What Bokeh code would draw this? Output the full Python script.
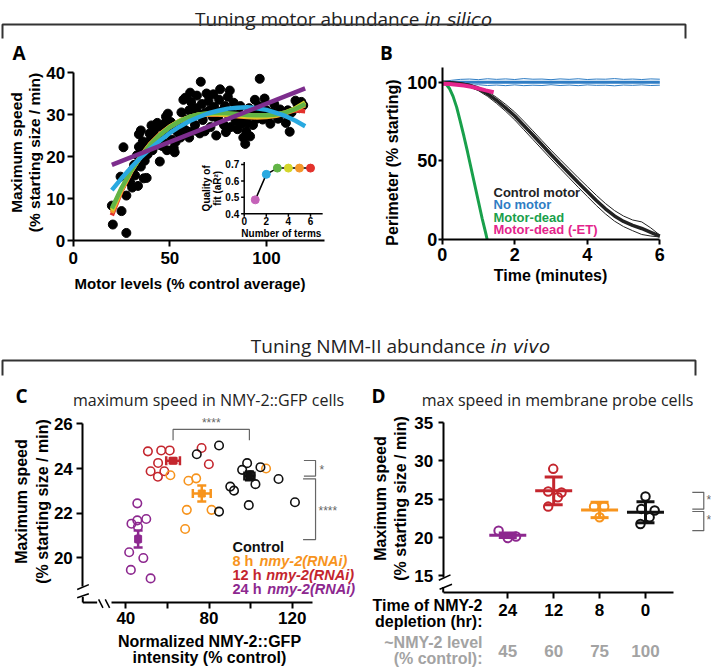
import math
from bokeh.plotting import figure
from bokeh.layouts import column, row
from bokeh.models import Range1d, FixedTicker, Label, ColumnDataSource, Whisker, TeeHead
from bokeh.core.properties import value
from bokeh.embed import file_html
from bokeh.resources import INLINE

SANS = "Liberation Sans"
OPEN = "Open Sans"
ITAL = "DejaVu Sans"

# ---------------- Panel A data ----------------
motor_levels = [20.0,20.5,27.5,25.0,26.0,24.5,27.5,29.5,30.5,31.0,
                32.0,31.5,33.0,34.0,35.0,34.0,35.5,36.0,37.0,36.5,
                38.0,35.0,33.5,38.5,39.0,40.0,40.5,41.0,42.0,43.0,
                44.8,44.0,45.0,46.0,47.0,48.0,49.0,47.5,50.0,51.0,
                52.0,52.5,53.0,54.0,55.0,55.5,56.0,57.0,58.0,58.5,
                59.0,60.0,60.5,61.0,62.0,63.0,63.5,64.0,65.0,65.5,
                66.0,66.5,67.0,68.0,68.5,69.0,70.0,70.5,71.0,72.0,
                72.5,73.0,74.0,75.0,75.5,76.0,77.0,78.0,78.5,79.0,
                80.0,80.5,81.0,81.5,82.0,83.0,84.0,85.0,86.0,86.5,
                87.0,88.0,88.5,89.0,89.5,90.0,91.0,91.5,92.0,93.0,
                93.5,94.0,95.0,96.0,96.5,97.0,98.0,99.0,100.0,101.0,
                102.0,103.0,104.0,105.0,106.0,107.0,108.0,110.0,111.0,112.0,
                113.0,115.0,116.0,117.0,118.0,119.0,
                38.0,39.5,41.5,43.5,44.5,46.5,48.5,50.5,53.5,57.5,60.0,62.5]
max_speed = [8.3,3.8,1.8,7.0,22.2,15.2,10.7,13.8,12.6,17.0,
             15.5,18.0,20.3,25.3,26.2,22.3,21.5,23.6,19.0,14.8,
             14.9,17.6,13.0,20.5,22.5,24.0,27.4,21.5,26.5,23.0,
             18.8,24.5,27.2,22.5,25.5,29.5,30.2,28.0,26.5,24.0,
             22.0,21.0,23.5,25.8,27.5,24.5,30.5,33.5,34.0,28.8,
             26.0,31.0,35.2,33.0,29.8,27.5,31.5,34.5,30.2,25.5,
             37.8,32.5,28.7,26.0,30.5,35.0,33.2,31.0,27.0,29.5,
             34.8,31.8,25.0,29.0,33.5,36.0,30.8,27.5,32.0,25.8,
             34.2,29.8,35.7,27.0,30.5,32.8,28.5,26.5,30.2,32.0,
             27.8,24.5,29.0,23.0,26.0,28.0,31.5,24.8,29.8,27.5,
             30.5,33.5,29.0,32.0,38.5,30.5,28.8,33.8,31.0,29.5,
             27.8,30.5,32.5,30.0,29.0,31.2,30.2,28.0,31.0,25.9,
             30.5,33.3,32.5,31.5,33.0,32.2,
             23.0,25.5,26.0,28.0,22.8,23.5,21.5,28.2,27.0,26.5,24.5,26.2]

fit1_x = [20, 120]
fit1_y = [18.0, 36.2]
fit_x = [20,25,30,35,40,45,50,55,60,65,70,75,80,85,90,95,100,105,110,115,120]
fit2_y = [12.0,14.8,17.4,19.8,21.9,23.8,25.6,27.1,28.4,29.4,30.3,30.9,31.4,31.6,31.7,31.5,31.1,30.4,29.6,28.5,27.2]
fit3_y = [7.6,12.5,16.6,20.0,22.9,25.2,27.0,28.4,29.4,30.0,30.3,30.4,30.3,30.1,29.9,29.8,29.8,30.0,30.5,31.3,32.5]
fit4_y = [7.2,12.3,16.6,20.1,23.0,25.3,27.1,28.5,29.4,30.0,30.2,30.2,30.0,29.8,29.6,29.5,29.6,29.9,30.5,31.5,32.9]
fit5_y = [6.6,12.0,16.5,20.1,23.0,25.3,27.1,28.4,29.3,29.8,30.0,30.0,29.8,29.6,29.4,29.3,29.4,29.7,30.3,31.2,32.2]
fit6_y = [6.0,11.8,16.4,20.1,23.1,25.4,27.1,28.4,29.3,29.8,30.0,30.0,29.9,29.7,29.6,29.6,29.7,30.0,30.5,31.0,30.8]

n_terms = [1, 2, 3, 4, 5, 6]
fit_quality = [0.485, 0.64, 0.678, 0.678, 0.678, 0.678]
term_colors = ["#c462b8", "#29a9e0", "#62b446", "#d4d62a", "#f4982b", "#e3322c"]
inset_xticks = [0, 2, 4, 6]
inset_yticks = [0.4, 0.5, 0.6, 0.7]

# ---------------- Panel B data ----------------
t_grid = [0,0.25,0.5,0.75,1.0,1.25,1.5,1.75,2.0,2.25,2.5,2.75,3.0,3.25,3.5,3.75,4.0,4.25,4.5,4.75,5.0,5.25,5.5,5.75,6.0]
ctrl_mean = [100,99.7,99.0,97.9,95.8,92.6,88.4,83.7,78.5,72.5,66.4,60.2,54.0,48.0,42.1,36.2,30.5,24.8,19.5,15.0,11.5,9.0,7.0,4.6,2.2]
ctrl_hi = [100,100.1,99.6,98.8,97.0,94.2,90.3,85.9,81.0,75.2,69.1,62.9,56.8,50.9,45.1,39.3,33.7,28.1,22.9,18.4,14.9,12.4,11.2,7.4,2.8]
ctrl_lo = [100,99.3,98.4,97.0,94.6,91.0,86.5,81.5,76.0,69.8,63.6,57.4,51.2,45.2,39.2,33.2,27.4,21.6,16.3,11.7,8.2,5.6,3.2,2.2,1.6]
nomotor_t = [0, 6]
nomotor_mean = [100, 100]
nomotor_hi = [100.3,101.2,101.8,102.0,101.6,102.2,101.8,102.1,101.7,102.3,101.9,102.0,101.6,102.1,101.8,102.2,101.7,102.0,101.9,102.3,101.8,102.0,101.7,102.1,101.9]
nomotor_lo = [99.7,98.9,98.3,98.0,98.4,97.9,98.2,97.8,98.3,97.8,98.1,97.9,98.4,97.9,98.2,97.8,98.3,98.0,98.1,97.7,98.2,98.0,98.3,97.9,98.1]
dead_t = [0,0.1,0.2,0.3,0.4,0.5,0.6,0.7,0.8,0.9,1.0,1.1,1.2,1.24]
dead_y = [100,99.0,96.0,91.0,84.0,75.0,65.5,55.5,45.0,34.5,24.0,13.5,4.0,0]
deadET_t = [0,0.2,0.4,0.6,0.8,1.0,1.2,1.42]
deadET_y = [99.0,98.8,98.4,97.9,97.1,96.0,94.8,93.6]
b_legend = ["Control motor", "No motor", "Motor-dead", "Motor-dead (-ET)"]

# ---------------- Panel C data ----------------
c_ctrl_x = [74.1,84.8,98.3,95.9,99.9,104.7,102.3,90.2,92.0,99.1,84.8,113.4,121.3]
c_ctrl_y = [24.64,25.03,24.24,23.94,23.70,24.06,23.30,23.19,23.01,22.36,22.07,23.53,22.49]
c_8h_x = [61.4,70.1,73.8,69.3,81.2,68.5,107.4]
c_8h_y = [23.70,23.45,23.56,22.15,22.15,21.29,24.00]
c_12h_x = [50.6,57.0,61.1,55.5,51.9,55.4,58.5,76.4,79.9]
c_12h_y = [24.77,24.81,24.81,24.25,23.88,23.63,23.88,24.92,24.19]
c_24h_x = [45.5,42.7,45.5,49.8,45.8,41.6,48.4,42.4,51.9]
c_24h_y = [22.44,21.53,21.68,21.74,21.39,20.25,19.99,19.46,19.08]
c_mean_x = [99.4, 76.5, 62.7, 45.9]
c_mean_y = [23.67, 22.88, 24.35, 20.84]
c_sem_x = [2.4, 4.3, 3.3, 0.6]
c_sem_y = [0.2, 0.36, 0.1, 0.38]
c_groups = ["Control", "8 h", "12 h", "24 h"]
c_xticks = [40, 60, 80, 100, 120]
c_yticks = [20, 22, 24, 26]

# ---------------- Panel D data ----------------
d_depletion = ["24", "12", "8", "0"]
d_level = ["45", "60", "75", "100"]
d_pos = [1, 2, 3, 4]
d_vals = [[20.88, 19.93, 20.14],
          [28.96, 26.0, 25.87, 25.26, 24.04],
          [24.06, 24.06, 22.66],
          [25.35, 23.74, 23.52, 22.65, 21.78]]
d_jitter = [[-0.2, 0.0, 0.18],
            [-0.01, -0.12, 0.17, 0.09, -0.12],
            [-0.12, 0.1, 0.0],
            [0.0, -0.09, 0.2, 0.09, -0.11]]
d_mean = [20.3, 26.09, 23.6, 23.3]
d_sd = [0.3, 1.8, 1.0, 1.37]
d_yticks = [15, 20, 25, 30, 35]

PURP = "#8d288f"; RED = "#c4262e"; ORANGE = "#f7941d"; BLACK = "#111111"
c_colors = [BLACK, ORANGE, RED, PURP]
d_colors = [PURP, RED, ORANGE, BLACK]
GREY = "#a3a3a3"; SIG = "#666666"


# ---------------- helpers ----------------
class Panel:
    """A figure whose frame fills the whole canvas; axes sit at fixed data locations."""
    def __init__(self, W, H, left, top, fw, fh, xr, yr):
        x0, x1 = xr
        y0, y1 = yr
        self.pxu = fw / (x1 - x0)
        self.pyu = fh / (y1 - y0)
        self.X0 = x0 - left / self.pxu
        X1 = x0 + (W - left) / self.pxu
        self.Y1 = y1 + top / self.pyu
        Y0 = y1 - (H - top) / self.pyu
        p = figure(width=W, height=H, x_range=Range1d(self.X0, X1),
                   y_range=Range1d(Y0, self.Y1), output_backend="svg",
                   toolbar_location=None, min_border=0)
        p.grid.visible = False
        p.outline_line_color = None
        p.background_fill_color = "white"
        p.border_fill_color = "white"
        p.xaxis.fixed_location = y0
        p.yaxis.fixed_location = x0
        self.xr, self.yr = xr, yr
        self.p = p

    def data(self, fx, fy):
        return self.X0 + fx / self.pxu, self.Y1 - fy / self.pyu

    def label(self, fx, fy, text, size, color="black", style="bold", font=SANS,
              align="center", angle=0.0, baseline="middle"):
        x, y = self.data(fx, fy)
        self.p.add_layout(Label(x=x, y=y, text=text, text_font=font,
                                text_font_size=f"{size}px", text_font_style=style,
                                text_color=color, text_align=align,
                                text_baseline=baseline, angle=angle))

    def dlabel(self, x, y, text, size, color="black", style="bold", align="center"):
        self.p.add_layout(Label(x=x, y=y, text=text, text_font=SANS,
                                text_font_size=f"{size}px", text_font_style=style,
                                text_color=color, text_align=align, text_baseline="middle"))

    def segs(self, pts, color="black", width=1.5):
        self.p.segment(x0=[a[0] for a in pts], y0=[a[1] for a in pts],
                       x1=[a[2] for a in pts], y1=[a[3] for a in pts],
                       line_color=color, line_width=width)


def style_axis(ax, ticks, size, standoff=3, tick_out=6, lw=2.0, bounds=None, overrides=None):
    ax.ticker = FixedTicker(ticks=ticks)
    ax.major_label_text_font = SANS
    ax.major_label_text_font_size = f"{size}px"
    ax.major_label_text_font_style = "bold"
    ax.major_label_text_color = "black"
    ax.axis_line_width = lw
    ax.axis_line_color = "black"
    ax.major_tick_line_width = lw
    ax.major_tick_line_color = "black"
    ax.major_tick_out = tick_out
    ax.major_tick_in = 0
    ax.minor_tick_line_color = None
    ax.major_label_standoff = standoff
    if bounds is not None:
        ax.bounds = bounds
    if overrides is not None:
        ax.major_label_overrides = overrides


def header(W, H, left_text, italic_text, split_x, base_y, line_y, right_x, tick_bottom):
    p = figure(width=W, height=H, x_range=Range1d(0, W), y_range=Range1d(H, 0),
               x_axis_type=None, y_axis_type=None, output_backend="svg",
               toolbar_location=None, min_border=0)
    p.grid.visible = False
    p.outline_line_color = None
    p.text(x=[split_x - 2], y=[base_y], text=[left_text], text_font=value(OPEN),
           text_font_size="19px", text_color="#222222", text_align="right",
           text_baseline="alphabetic")
    p.text(x=[split_x + 3], y=[base_y], text=[italic_text], text_font=value(ITAL),
           text_font_size="18px", text_font_style="italic", text_color="#222222",
           text_align="left", text_baseline="alphabetic")
    p.line([2, 2, right_x, right_x], [tick_bottom, line_y, line_y, tick_bottom],
           line_color="#333333", line_width=2)
    return p


# ---------------- headers ----------------
h1 = header(711, 40, "Tuning motor abundance", "in silico", 421, 18.5, 24, 685, 38)
h2 = header(711, 77, "Tuning NMM-II abundance", "in vivo", 487, 45.5, 60, 695, 75)

# ---------------- Panel A ----------------
A = Panel(363, 260, 72.7, 32, 251, 168, (0, 251 / 1.933), (0, 40))
pa = A.p
style_axis(pa.xaxis[0], [0, 50, 100], 17, standoff=5, tick_out=6, bounds=A.xr)
style_axis(pa.yaxis[0], [0, 10, 20, 30, 40], 17, standoff=2, tick_out=6, bounds=A.yr)
pa.scatter(motor_levels, max_speed, size=9, color="black")
fit_sets = [(fit6_y, term_colors[5]), (fit5_y, term_colors[4]), (fit4_y, term_colors[3]),
            (fit3_y, term_colors[2]), (fit2_y, term_colors[1])]
for ys, col in fit_sets:
    pa.line(fit_x, ys, line_color=col, line_width=4.5)
pa.line(fit1_x, fit1_y, line_color="#7d2d8d", line_width=4.5)

# inset on its own ranges (0 at x 243.7, 11.05 px per term; 0.4 at y 213.3, 164.4 px per unit)
pa.extra_x_ranges = {"ix": Range1d((0 - 243.7) / 11.05, (363 - 243.7) / 11.05)}
pa.extra_y_ranges = {"iy": Range1d(0.4 - (300 - 213.3) / 164.4, 0.7 + (164 - 40) / 164.4)}
IR = dict(x_range_name="ix", y_range_name="iy")
pa.line([0, 0, 7.1], [0.715, 0.4, 0.4], line_color="black", line_width=1.5, **IR)
pa.segment(x0=[-0.28] * 4, y0=inset_yticks, x1=[0] * 4, y1=inset_yticks,
           line_color="black", line_width=1.5, **IR)
pa.segment(x0=inset_xticks, y0=[0.4] * 4, x1=inset_xticks, y1=[0.382] * 4,
           line_color="black", line_width=1.5, **IR)
pa.line(n_terms, fit_quality, line_color="black", line_width=1.5, **IR)
pa.scatter(n_terms, fit_quality, size=8, color=term_colors, **IR)
pa.text(x=[-0.45] * 4, y=inset_yticks, text=[f"{v:.1f}" for v in inset_yticks],
        text_font=value(SANS), text_font_size="10px", text_font_style="bold",
        text_align="right", text_baseline="middle", **IR)
pa.text(x=inset_xticks, y=[0.355] * 4, text=[str(v) for v in inset_xticks],
        text_font=value(SANS), text_font_size="10px", text_font_style="bold",
        text_align="center", text_baseline="middle", **IR)
pa.text(x=[3.36], y=[0.278], text=["Number of terms"], text_font=value(SANS),
        text_font_size="10px", text_font_style="bold", text_align="center",
        text_baseline="middle", **IR)
pa.text(x=[-3.45, -2.45], y=[0.555, 0.555], text=["Quality of", "fit (aR\u00b2)"],
        text_font=value(SANS), text_font_size="10px", text_font_style="bold",
        text_align="center", text_baseline="middle", angle=math.pi / 2, **IR)

A.label(18.5, 12, "A", 19, font=OPEN)
A.label(15.5, 112, "Maximum speed", 15.5, angle=math.pi / 2)
A.label(33.5, 112, "(% starting size / min)", 15.5, angle=math.pi / 2)
A.label(189.5, 243, "Motor levels (% control average)", 15)

# ---------------- Panel B ----------------
B = Panel(348, 260, 78.7, 27, 218, 172, (0, 218 / 36.27), (0, 172 / 1.573))
pb = B.p
style_axis(pb.xaxis[0], [0, 2, 4, 6], 18, standoff=3, tick_out=5, bounds=(0, 6))
style_axis(pb.yaxis[0], [0, 50, 100], 18, standoff=1, tick_out=4, bounds=B.yr)
BBLUE = "#2f7dc4"; BGREEN = "#19a04b"; BMAG = "#e4248c"
pb.line(t_grid, nomotor_hi, line_color=BBLUE, line_width=1)
pb.line(t_grid, nomotor_lo, line_color=BBLUE, line_width=1)
pb.line(nomotor_t, nomotor_mean, line_color=BBLUE, line_width=3)
pb.line(t_grid, ctrl_hi, line_color="#222222", line_width=1)
pb.line(t_grid, ctrl_lo, line_color="#222222", line_width=1)
pb.line(t_grid, ctrl_mean, line_color="#222222", line_width=3.5)
pb.line(dead_t, dead_y, line_color=BGREEN, line_width=3)
pb.line(deadET_t, deadET_y, line_color=BMAG, line_width=4)
for i, (txt, col) in enumerate(zip(b_legend, ["#222222", BBLUE, BGREEN, BMAG])):
    B.label(130, 152 + 12.3 * i, txt, 13, color=col, align="left")
B.label(23, 12, "B", 19, font=OPEN)
B.label(29, 122, "Perimeter (% starting)", 16, angle=math.pi / 2)
B.label(187, 235, "Time (minutes)", 16)

# ---------------- Panel C ----------------
C = Panel(368, 290, 82.3, 35, 268, 190, (19.3, 19.3 + 268 / 2.08), (18.0, 18.0 + 190 / 22.33))
pc = C.p
style_axis(pc.xaxis[0], c_xticks, 17, standoff=3, tick_out=6, bounds=(33.1, 129.6),
           overrides={60: "", 100: ""})
style_axis(pc.yaxis[0], c_yticks, 17, standoff=4, tick_out=6, bounds=(18.73, 26))
# broken axes
C.segs([(19.3, 18.0, 26.2, 18.0), (19.3, 18.0, 19.3, 18.25)], width=2)
C.segs([(26.9, 18.14, 29.0, 17.76), (30.1, 18.14, 32.2, 17.76),
        (16.6, 18.58, 22.2, 18.80), (16.6, 18.21, 22.2, 18.39)], width=1.5)

for xs, ys, col in [(c_24h_x, c_24h_y, PURP), (c_12h_x, c_12h_y, RED),
                    (c_8h_x, c_8h_y, ORANGE), (c_ctrl_x, c_ctrl_y, BLACK)]:
    pc.scatter(xs, ys, size=8.5, fill_color=None, line_color=col, line_width=1.6)

for i, col in enumerate(c_colors):
    src = ColumnDataSource(dict(x=[c_mean_x[i]], y=[c_mean_y[i]],
                                xl=[c_mean_x[i] - c_sem_x[i]], xh=[c_mean_x[i] + c_sem_x[i]],
                                yl=[c_mean_y[i] - c_sem_y[i]], yh=[c_mean_y[i] + c_sem_y[i]]))
    pc.add_layout(Whisker(source=src, base="x", lower="yl", upper="yh", dimension="height",
                          line_color=col, line_width=2.5,
                          lower_head=TeeHead(size=9, line_color=col, line_width=2.5),
                          upper_head=TeeHead(size=9, line_color=col, line_width=2.5)))
    pc.add_layout(Whisker(source=src, base="y", lower="xl", upper="xh", dimension="width",
                          line_color=col, line_width=2.5,
                          lower_head=TeeHead(size=9, line_color=col, line_width=2.5),
                          upper_head=TeeHead(size=9, line_color=col, line_width=2.5)))
    pc.scatter([c_mean_x[i]], [c_mean_y[i]], marker="square", size=7, color=col)

# significance brackets
pc.line([c_mean_x[2], c_mean_x[2], c_mean_x[0], c_mean_x[0]], [25.27, 25.75, 25.75, 25.27],
        line_color=SIG, line_width=1.2)
C.dlabel((c_mean_x[2] + c_mean_x[0]) / 2, 26.03, "****", 12, color=SIG, style="normal")
pc.line([125.6, 131.2, 131.2, 125.6], [24.36, 24.36, 23.66, 23.66], line_color=SIG, line_width=1.2)
pc.line([125.2, 131.2, 131.2, 125.2], [23.54, 23.54, 20.82, 20.82], line_color=SIG, line_width=1.2)
C.label(319, 92, "*", 12, color=SIG, style="normal", align="left")
C.label(318, 133, "****", 12, color=SIG, style="normal", align="left")

# legend
leg_y = [169, 183, 197, 211]
C.label(232, leg_y[0], "Control", 14.5, color=BLACK, align="left")
italic_x = [259, 265.7, 266.7]
for i in range(1, 4):
    C.label(232, leg_y[i], c_groups[i], 14.5, color=c_colors[i], align="left")
    C.label(italic_x[i - 1], leg_y[i], "nmy-2(RNAi)", 14.5, color=c_colors[i],
            style="bold italic", align="left")

C.label(21, 18, "C", 19, font=OPEN)
C.label(208, 22, "maximum speed in NMY-2::GFP cells", 16, color="#222222", style="normal", font=OPEN)
C.label(21, 124, "Maximum speed", 16, angle=math.pi / 2)
C.label(41.5, 124, "(% starting size / min)", 16, angle=math.pi / 2)
C.label(209, 264, "Normalized NMY-2::GFP", 16)
C.label(209, 279.5, "intensity (% control)", 16)

# ---------------- Panel D ----------------
D = Panel(343, 290, 74.7, 35, 261, 180, (-0.407, -0.407 + 261 / 45.9), (12.84, 12.84 + 180 / 7.67))
pd_ = D.p
style_axis(pd_.xaxis[0], d_pos, 17, standoff=5, tick_out=6, bounds=(-0.407, 4.62),
           overrides={p: t for p, t in zip(d_pos, d_depletion)})
style_axis(pd_.yaxis[0], d_yticks, 17, standoff=5, tick_out=5, bounds=(14.75, 35))
D.segs([(-0.407, 12.84, -0.407, 13.55)], width=2)
D.segs([(-0.503, 14.44, -0.248, 15.13), (-0.485, 13.27, -0.215, 13.92)], width=1.5)

for i, col in enumerate(d_colors):
    xs = [d_pos[i] + j for j in d_jitter[i]]
    pd_.scatter(xs, d_vals[i], size=8.5, fill_color=None, line_color=col, line_width=2)
    src = ColumnDataSource(dict(x=[d_pos[i]], lo=[d_mean[i] - d_sd[i]], hi=[d_mean[i] + d_sd[i]]))
    pd_.add_layout(Whisker(source=src, base="x", lower="lo", upper="hi", dimension="height",
                           line_color=col, line_width=3,
                           lower_head=TeeHead(size=18, line_color=col, line_width=3),
                           upper_head=TeeHead(size=18, line_color=col, line_width=3)))
    pd_.scatter([d_pos[i]], [d_mean[i]], marker="dash", size=37, line_color=col, line_width=3)

pd_.line([5.02, 5.27, 5.27, 5.02], [25.9, 25.9, 23.7, 23.7], line_color=SIG, line_width=1.2)
pd_.line([5.02, 5.27, 5.27, 5.02], [23.4, 23.4, 20.9, 20.9], line_color=SIG, line_width=1.2)
D.dlabel(5.33, 24.9, "*", 12, color=SIG, style="normal", align="left")
D.dlabel(5.33, 22.3, "*", 12, color=SIG, style="normal", align="left")

grey_y = D.data(0, 273)[1]
for p_, t_ in zip(d_pos, d_level):
    D.dlabel(p_, grey_y, t_, 17, color=GREY)

D.label(10, 18, "D", 19, font=OPEN)
D.label(189, 22, "max speed in membrane probe cells", 16, color="#222222", style="normal", font=OPEN)
D.label(12, 121, "Maximum speed", 16, angle=math.pi / 2)
D.label(32, 121, "(% starting size / min)", 16, angle=math.pi / 2)
D.label(114, 228, "Time of NMY-2", 16, align="right")
D.label(114, 243.5, "depletion (hr):", 16, align="right")
D.label(114, 265, "~NMY-2 level", 16, color=GREY, align="right")
D.label(114, 280.5, "(% control):", 16, color=GREY, align="right")

layout = column(h1, row(pa, pb), h2, row(pc, pd_))
open("out.html", "w").write(file_html(layout, INLINE))
